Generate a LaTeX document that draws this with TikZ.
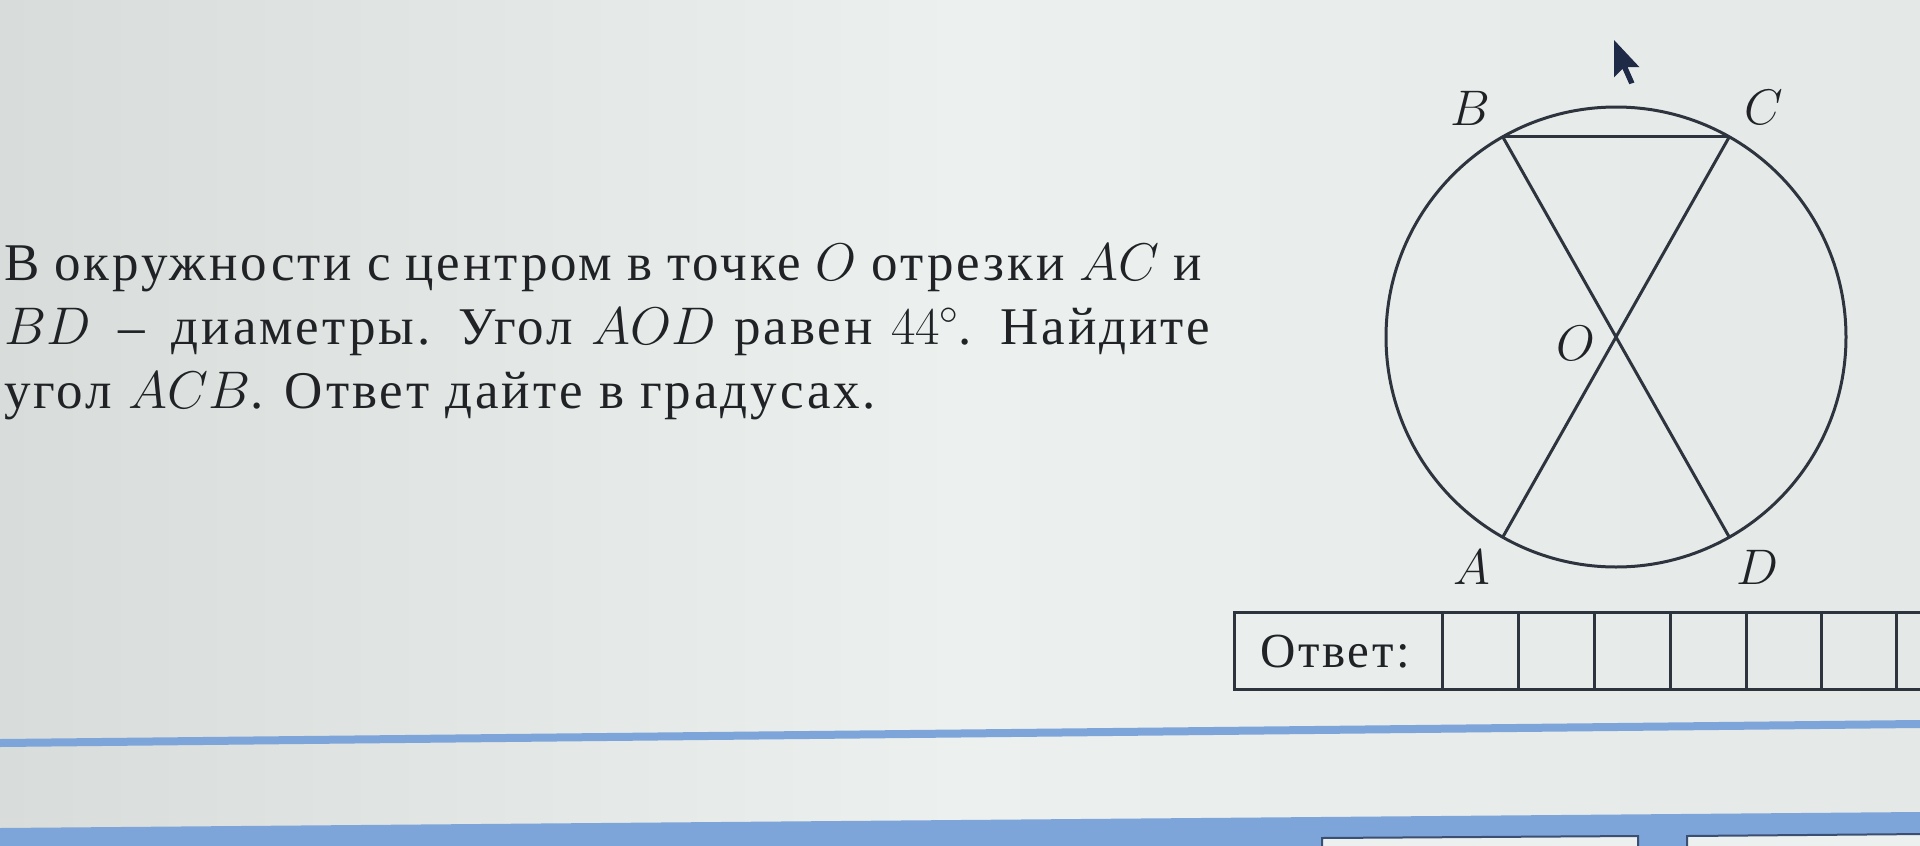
\documentclass[tikz,border=0pt]{standalone}
\usepackage{fix-cm}
\usepackage{fontspec}
\setmainfont{Liberation Serif}
\newfontfamily\txtfont[LetterSpace=5.5]{Liberation Serif}
\definecolor{ink}{RGB}{32,34,38}
\definecolor{geo}{RGB}{45,52,62}
\definecolor{bgL}{RGB}{216,220,218}
\definecolor{bgM}{RGB}{236,240,238}
\definecolor{bgR}{RGB}{228,232,231}
\definecolor{lblue}{RGB}{125,165,218}
\definecolor{navy}{RGB}{30,42,70}
\tikzset{
  txt/.style={anchor=base west, inner sep=0pt, text=ink, font=\txtfont\fontsize{53}{60}\selectfont},
  lbl/.style={inner sep=0pt, text=ink, font=\fontsize{50}{60}\selectfont},
  geoline/.style={draw=geo, line width=3pt},
  boxline/.style={draw=geo, line width=3pt}
}
\begin{document}
\begin{tikzpicture}[x=1pt,y=-1pt]
\useasboundingbox (0,0) rectangle (1920,846);
\shade[left color=bgL, right color=bgR, middle color=bgM] (0,0) rectangle (1920,846);
% problem text
\node[txt] (t1) at (4,280) {\makebox[1198pt][s]{В окружности с центром в точке $O$ отрезки $AC$ и}};
\node[txt] (t2) at (4,344) {\makebox[1206pt][s]{$BD$ \,–\, диаметры. Угол $AOD$ равен $44^\circ$. Найдите}};
\node[txt] (t3) at (4,408) {угол $ACB$. Ответ дайте в градусах.};
% geometry
\coordinate (O) at (1616,337);
\coordinate (B) at (1502.7,136.8);
\coordinate (C) at (1729.3,136.8);
\coordinate (A) at (1502.7,537.2);
\coordinate (D) at (1729.3,537.2);
\draw[geoline] (O) circle[radius=230pt];
\draw[geoline] (B) -- (C);
\draw[geoline] (B) -- (D);
\draw[geoline] (C) -- (A);
\node[lbl] (lB) at (1470,108) {$B$};
\node[lbl] (lC) at (1764,107) {$C$};
\node[lbl] (lO) at (1576,343) {$O$};
\node[lbl] (lA) at (1472,567) {$A$};
\node[lbl] (lD) at (1757,567) {$D$};
% cursor
\begin{scope}[shift={(1614,40)}, scale=1.7]
\fill[navy] (0,0) -- (0,22) -- (5,17) -- (9,26) -- (12,25) -- (8,16) -- (15,16) -- cycle;
\end{scope}
% answer box
\draw[boxline] (1234,612) rectangle (1930,689);
\foreach \xx in {1442,1518,1594,1670,1746,1821,1896}
  \draw[boxline] (\xx,612) -- (\xx,689);
\node[anchor=base west, inner sep=0pt, text=ink, font=\txtfont\fontsize{49}{52}\selectfont] (ans) at (1260,667) {Ответ:};
% screen chrome
\draw[lblue, line width=8pt] (0,743) -- (1920,724);
\fill[lblue] (0,828) -- (1920,812) -- (1920,846) -- (0,846) -- cycle;
\draw[navy!70!lblue, line width=2pt, fill=bgM] (1322,846) -- (1322,838) -- (1638,836) -- (1638,846);
\draw[navy!70!lblue, line width=2pt, fill=bgM] (1687,846) -- (1687,836) -- (1925,834) -- (1925,846);
\end{tikzpicture}
\end{document}
